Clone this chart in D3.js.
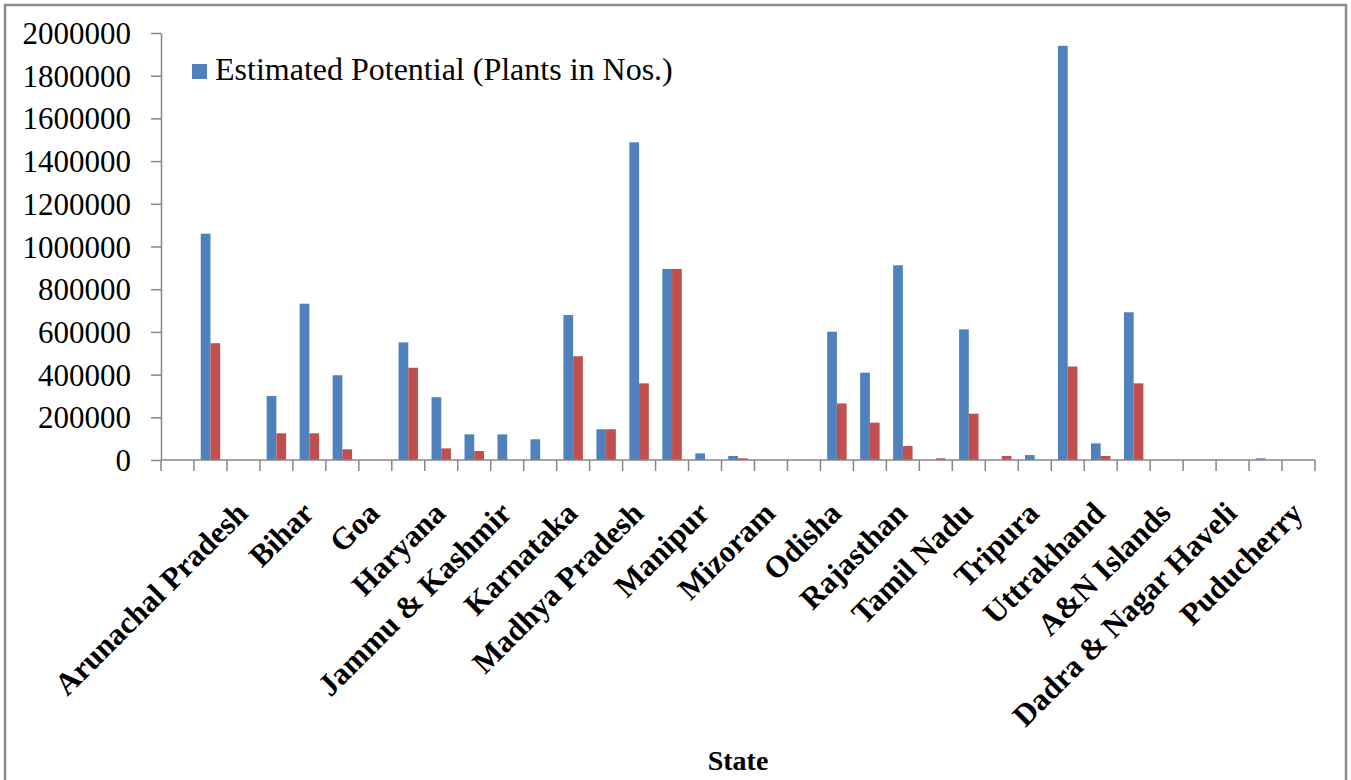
<!DOCTYPE html>
<html>
<head>
<meta charset="utf-8">
<script src="https://cdn.jsdelivr.net/npm/d3@7"></script>
<style>
  html, body { margin: 0; padding: 0; background: #fff; }
  svg { display: block; }
  text { font-family: "Times New Roman", "Liberation Serif", serif; fill: #000; }
</style>
</head>
<body>
<svg id="chart" width="1351" height="780"></svg>
<script>
// ---- data ----
const categories = ["", "Andhra Pradesh", "Arunachal Pradesh", "Assam", "Bihar", "Chhattisgarh", "Goa", "Gujarat",
  "Haryana", "Himachal Pradesh", "Jammu & Kashmir", "Jharkhand", "Karnataka", "Kerala", "Madhya Pradesh",
  "Maharashtra", "Manipur", "Meghalaya", "Mizoram", "Nagaland", "Odisha", "Punjab", "Rajasthan", "Sikkim",
  "Tamil Nadu", "Telangana", "Tripura", "Uttar Pradesh", "Uttrakhand", "West Bengal", "A&N Islands",
  "Chandigarh", "Dadra & Nagar Haveli", "Daman & Diu", "Puducherry"];
const seriesNames = ["Estimated Potential (Plants in Nos.)", "Series 2"];
const potential = [0, 1060000, 0, 300000, 732000, 397000, 0, 551000,
  294000, 120000, 120000, 97000, 679000, 144000, 1488000,
  895000, 31000, 19000, 0, 0, 601000, 409000, 912000, 0,
  612000, 0, 23000, 1940000, 78000, 692000, 0,
  0, 0, 7800, 0];
const second = [0, 547000, 0, 125000, 125000, 50000, 0, 432000,
  54600, 42000, 0, 0, 486000, 144000, 359000,
  895000, 0, 7800, 0, 0, 265000, 175000, 65600, 7800,
  217000, 18700, 0, 438000, 18700, 359000, 0,
  0, 0, 0, 0];
const yTicks = [0, 200000, 400000, 600000, 800000, 1000000, 1200000, 1400000, 1600000, 1800000, 2000000];
const xTitle = "State";
const colors = ["#4F81BD", "#C0504D"];

// ---- layout ----
const svg = d3.select("#chart");
const plot = { left: 161, right: 1315, top: 33, bottom: 460 };
const axisColor = "#868686";

svg.append("rect").attr("x", 0).attr("y", 0).attr("width", 1351).attr("height", 780).attr("fill", "#fff");
// chart border
svg.append("rect").attr("x", 5).attr("y", 5).attr("width", 1341).attr("height", 790)
  .attr("fill", "none").attr("stroke", "#8c8c8c").attr("stroke-width", 2.5);

const x = d3.scaleBand().domain(d3.range(categories.length)).range([plot.left, plot.right]).padding(0);
const bw = x.bandwidth();
const xInner = d3.scaleBand().domain([0, 1]).range([bw * 0.205, bw * 0.795]).padding(0);
const y = d3.scaleLinear().domain([0, 2000000]).range([plot.bottom, plot.top]);

const data = [potential, second];
data.forEach((vals, s) => {
  svg.append("g").selectAll("rect").data(vals.map((v, i) => ({ v, i })).filter(d => d.v > 0))
    .join("rect")
    .attr("x", d => x(d.i) + xInner(s))
    .attr("y", d => y(d.v))
    .attr("width", xInner.bandwidth())
    .attr("height", d => y(0) - y(d.v))
    .attr("fill", colors[s]);
});

// y axis
const yAxis = svg.append("g").attr("transform", `translate(${plot.left},0)`)
  .call(d3.axisLeft(y).tickValues(yTicks).tickSize(10).tickSizeOuter(0).tickPadding(20).tickFormat(d3.format("d")));
yAxis.select(".domain").attr("stroke", axisColor).attr("stroke-width", 1.5);
yAxis.selectAll(".tick line").attr("stroke", axisColor).attr("stroke-width", 1.5);
yAxis.selectAll(".tick text").attr("font-size", 31).attr("font-family", "'Times New Roman', 'Liberation Serif', serif")
  .attr("fill", "#000").attr("dy", "0.34em");

// x axis line and ticks at band boundaries
const boundaries = d3.range(categories.length + 1).map(i => i === categories.length ? plot.right : x(i));
svg.append("line").attr("x1", plot.left).attr("x2", plot.right).attr("y1", plot.bottom).attr("y2", plot.bottom)
  .attr("stroke", axisColor).attr("stroke-width", 1.5);
svg.append("g").selectAll("line").data(boundaries).join("line")
  .attr("x1", d => d).attr("x2", d => d).attr("y1", plot.bottom).attr("y2", plot.bottom + 11)
  .attr("stroke", axisColor).attr("stroke-width", 1.5);

// x labels (every other category)
svg.append("g").selectAll("text")
  .data(categories.map((c, i) => ({ c, i })).filter(d => d.i % 2 === 0 && d.c !== ""))
  .join("text")
  .attr("transform", d => `translate(${x(d.i) + bw / 2 + 6},515) rotate(-45)`)
  .attr("text-anchor", "end")
  .attr("font-weight", "bold")
  .attr("font-size", 31)
  .text(d => d.c);

// x title
svg.append("text").attr("x", 738).attr("y", 770).attr("text-anchor", "middle")
  .attr("font-weight", "bold").attr("font-size", 28).text(xTitle);

// legend
svg.append("rect").attr("x", 192).attr("y", 64).attr("width", 15).attr("height", 15).attr("fill", colors[0]);
svg.append("text").attr("x", 215).attr("y", 80).attr("font-size", 32).text(seriesNames[0]);
</script>
</body>
</html>
